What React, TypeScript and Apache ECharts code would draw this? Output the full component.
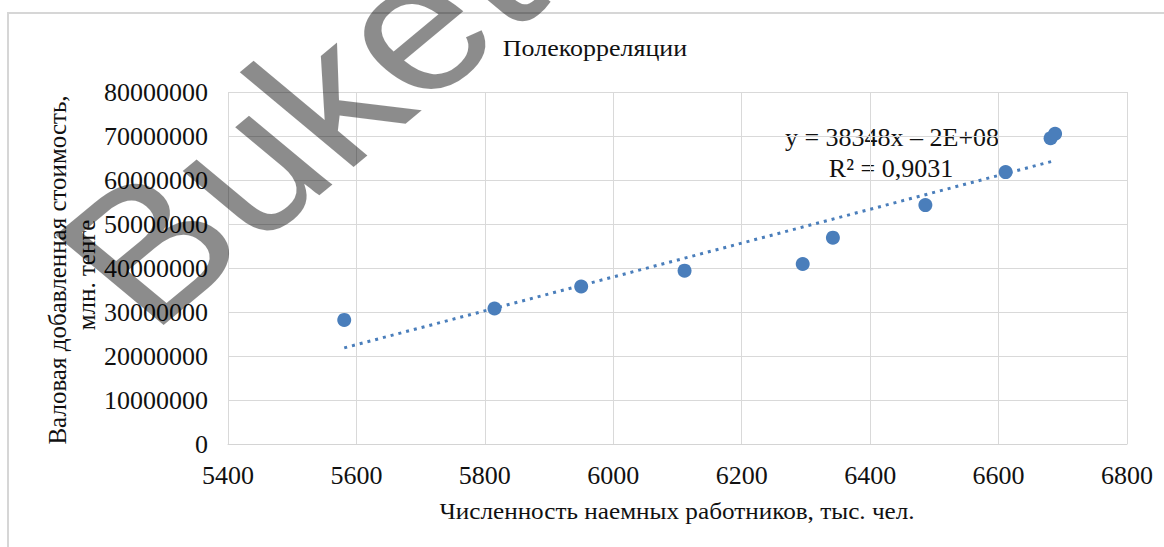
import React, { useEffect, useRef } from "react";
import * as echarts from "echarts";

// Data
const workers = [5581, 5815, 5950, 6111, 6295, 6342, 6486, 6611, 6681, 6688];
const gva = [28200000, 30800000, 35800000, 39400000, 40900000, 46900000, 54300000, 61800000, 69500000, 70500000];
const chartTitle = "Полекорреляции";
const xTitle = "Численность наемных работников, тыс. чел.";
const yTitleLines = ["Валовая добавленная стоимость,", "млн. тенге"];
const equationLines = ["y = 38348x – 2E+08", "R² = 0,9031"];
const watermark = "Buketov";

function linearFit(xs: number[], ys: number[]) {
  const n = xs.length;
  const mx = xs.reduce((a, b) => a + b, 0) / n;
  const my = ys.reduce((a, b) => a + b, 0) / n;
  let sxy = 0, sxx = 0;
  for (let i = 0; i < n; i++) {
    sxy += (xs[i] - mx) * (ys[i] - my);
    sxx += (xs[i] - mx) * (xs[i] - mx);
  }
  const slope = sxy / sxx;
  return { slope, intercept: my - slope * mx };
}

export default function App() {
  const ref = useRef<HTMLDivElement>(null);
  useEffect(() => {
    if (!ref.current) return;
    const chart = echarts.init(ref.current, undefined, { renderer: "svg" });
    const fit = linearFit(workers, gva);
    const xmin = Math.min(...workers);
    const xmax = Math.max(...workers);
    const trend = [
      [xmin, fit.slope * xmin + fit.intercept],
      [xmax, fit.slope * xmax + fit.intercept],
    ];
    const serif = "Liberation Serif";
    const blue = "#4a7ebb";
    chart.setOption({
      animation: false,
      backgroundColor: "#ffffff",
      grid: { left: 228, right: 37, top: 92, bottom: 103 },
      xAxis: {
        type: "value",
        min: 5400,
        max: 6800,
        interval: 200,
        axisLine: { show: true, lineStyle: { color: "#d4d4d4", width: 1 } },
        axisTick: { show: false },
        splitLine: { show: true, lineStyle: { color: "#d9d9d9", width: 1 } },
        axisLabel: { color: "#111", fontFamily: serif, fontSize: 26, margin: 18, formatter: (v: number) => String(v) },
      },
      yAxis: {
        type: "value",
        min: 0,
        max: 80000000,
        interval: 10000000,
        axisLine: { show: false },
        axisTick: { show: false },
        splitLine: { show: true, lineStyle: { color: "#d9d9d9", width: 1 } },
        axisLabel: { color: "#111", fontFamily: serif, fontSize: 26, margin: 20, formatter: (v: number) => String(v) },
      },
      series: [
        {
          type: "line",
          data: trend,
          symbol: "none",
          z: 2,
          lineStyle: { color: blue, width: 3, type: [3, 5] },
        },
        {
          type: "scatter",
          data: workers.map((x, i) => [x, gva[i]]),
          symbol: "circle",
          symbolSize: 14,
          z: 3,
          itemStyle: { color: blue, opacity: 1 },
        },
      ],
      graphic: [
        {
          type: "rect",
          z: -10,
          silent: true,
          shape: { x: 8, y: 13, width: 1300, height: 700 },
          style: { fill: "none", stroke: "#d6d6d6", lineWidth: 2 },
        },
        {
          type: "text",
          x: 595,
          y: 48,
          scaleX: 1.13,
          style: { text: chartTitle, fontFamily: serif, fontSize: 23, fill: "#111", align: "center", verticalAlign: "middle" },
        },
        {
          type: "text",
          x: 677,
          y: 511,
          scaleX: 1.05,
          style: { text: xTitle, fontFamily: serif, fontSize: 24, fill: "#111", align: "center", verticalAlign: "middle" },
        },
        {
          type: "text",
          x: 57,
          y: 270,
          rotation: Math.PI / 2,
          style: { text: yTitleLines[0], fontFamily: serif, fontSize: 25, fill: "#111", align: "center", verticalAlign: "middle" },
        },
        {
          type: "text",
          x: 86,
          y: 275,
          rotation: Math.PI / 2,
          style: { text: yTitleLines[1], fontFamily: serif, fontSize: 25, fill: "#111", align: "center", verticalAlign: "middle" },
        },
        {
          type: "text",
          x: 892,
          y: 137,
          style: { text: equationLines[0], fontFamily: serif, fontSize: 26, fill: "#111", align: "center", verticalAlign: "middle" },
        },
        {
          type: "text",
          x: 891,
          y: 168,
          style: { text: equationLines[1], fontFamily: serif, fontSize: 26, fill: "#111", align: "center", verticalAlign: "middle" },
        },
        {
          type: "group",
          x: 380,
          y: 54,
          scaleX: 1.2,
          z: 100,
          silent: true,
          children: [
            {
              type: "text",
              x: 0,
              y: 0,
              z: 100,
              rotation: Math.PI / 4,
              style: {
                text: watermark,
                fontFamily: "Liberation Sans",
                fontSize: 185,
                fill: "rgba(0,0,0,0.45)",
                align: "center",
                verticalAlign: "middle",
              },
            },
          ],
        },
      ],
    });
    return () => chart.dispose();
  }, []);
  return (
    <div
      ref={ref}
      style={{ position: "absolute", left: 0, top: 0, width: 1164, height: 547, background: "#fff" }}
    />
  );
}
